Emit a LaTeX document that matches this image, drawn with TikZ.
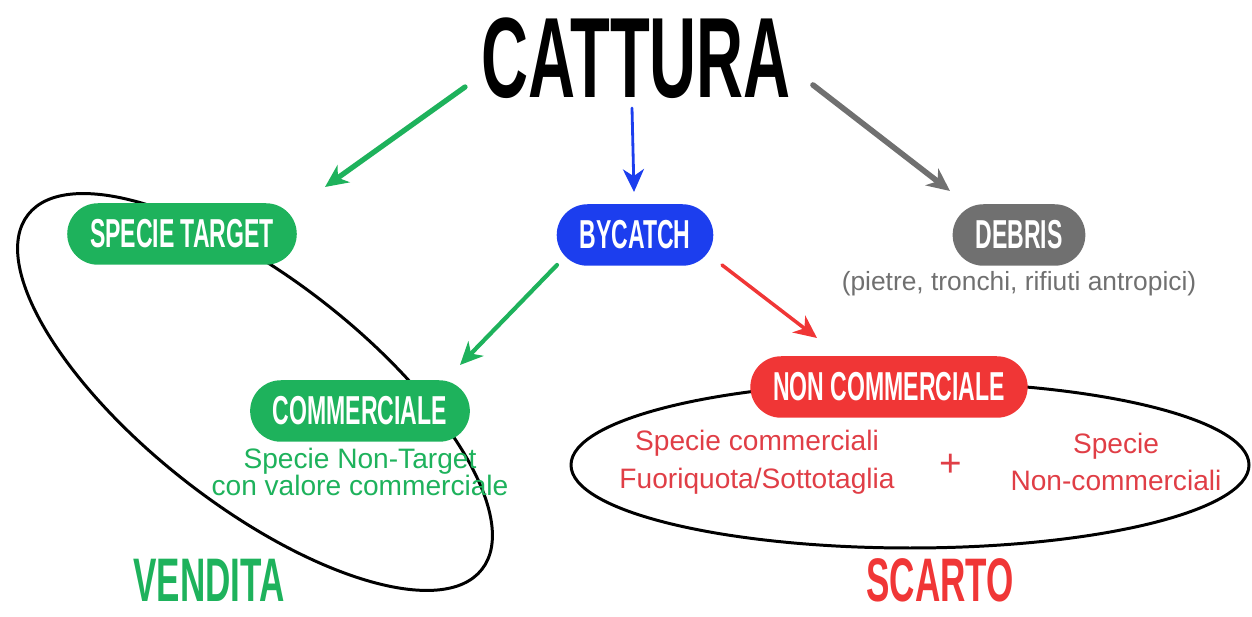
\documentclass[tikz,border=0pt]{standalone}
\usepackage{fontspec}
\setmainfont{Liberation Sans}
\usepackage{graphicx}
\usetikzlibrary{arrows.meta,positioning}

\definecolor{catgreen}{RGB}{30,178,92}
\definecolor{catblue}{RGB}{28,62,238}
\definecolor{catgrey}{RGB}{112,112,112}
\definecolor{catred}{RGB}{240,54,54}
\definecolor{redtext}{RGB}{224,62,70}

\newcommand{\narrow}[1]{\bfseries\scalebox{0.57}[1]{#1}}

\begin{document}
\begin{tikzpicture}[x=0.02cm,y=-0.02cm,
    pill/.style={fill=#1,text=white,rounded corners=17.5pt,minimum height=35pt,inner xsep=13pt,
        font=\fontsize{23}{23}\selectfont},
    ring/.style={line width=1.7pt},
    link/.style={line width=#1,line cap=round,-{Stealth[length=13pt,width=12pt,inset=4pt]}},
    note/.style={align=center,inner sep=0pt}]
    \useasboundingbox (0,0) rectangle (1252,617);

    % Groups
    \draw[ring,rotate around={-38:(255,392)}] (255,392) ellipse [x radius=288,y radius=113];
    \draw[ring] (910,465) ellipse [x radius=339,y radius=83];

    % Title
    \node[font=\fontsize{65}{65}\selectfont] (cattura) at (636,58) {\narrow{CATTURA}};

    % Categories
    \node[pill=catgreen] (target) at (182,234) {\narrow{SPECIE TARGET}};
    \node[pill=catblue] (bycatch) at (635,235) {\narrow{BYCATCH}};
    \node[pill=catgrey] (debris) at (1019,235) {\narrow{DEBRIS}};
    \node[note,text=catgrey,font=\fontsize{15}{15}\selectfont,below=3pt of debris] (debrisnote)
        {(pietre, tronchi, rifiuti antropici)};

    \node[pill=catgreen] (comm) at (360,411) {\narrow{COMMERCIALE}};
    \node[note,text=catgreen,font=\fontsize{16}{15.5}\selectfont,below=3pt of comm] (commnote)
        {Specie Non-Target\\con valore commerciale};
    \node[pill=catred] (noncomm) at (889,387) {\narrow{NON COMMERCIALE}};

    \node[note,text=redtext,font=\fontsize{16}{21.5}\selectfont] (fuori) at (757,462)
        {Specie commerciali\\Fuoriquota/Sottotaglia};
    \node[text=redtext,font=\fontsize{22}{22}\selectfont] (plus) at (951,465) {+};
    \node[note,text=redtext,font=\fontsize{16}{21.5}\selectfont] (altre) at (1116,462)
        {Specie\\Non-commerciali};

    % Outcomes
    \node[inner sep=1pt,text=catgreen,font=\fontsize{35}{35}\selectfont] (vendita) at (209,580) {\narrow{VENDITA}};
    \node[inner sep=1pt,text=catred,font=\fontsize{35}{35}\selectfont] (scarto) at (940,580) {\narrow{SCARTO}};

    % Arrows
    \coordinate (c1) at (465,87);   \coordinate (t1) at (325,187);
    \coordinate (c2) at (632,108);  \coordinate (b1) at (634,192);
    \coordinate (c3) at (813,85);   \coordinate (d1) at (950,191);
    \coordinate (b2) at (557,265);  \coordinate (m1) at (460,365);
    \coordinate (b3) at (722,265);  \coordinate (n1) at (817,338);
    \draw[link=3pt,catgreen] (c1) -- (t1);
    \draw[link=1.6pt,catblue] (c2) -- (b1);
    \draw[link=3.2pt,catgrey] (c3) -- (d1);
    \draw[link=2.4pt,catgreen] (b2) -- (m1);
    \draw[link=2pt,catred] (b3) -- (n1);
\end{tikzpicture}
\end{document}
